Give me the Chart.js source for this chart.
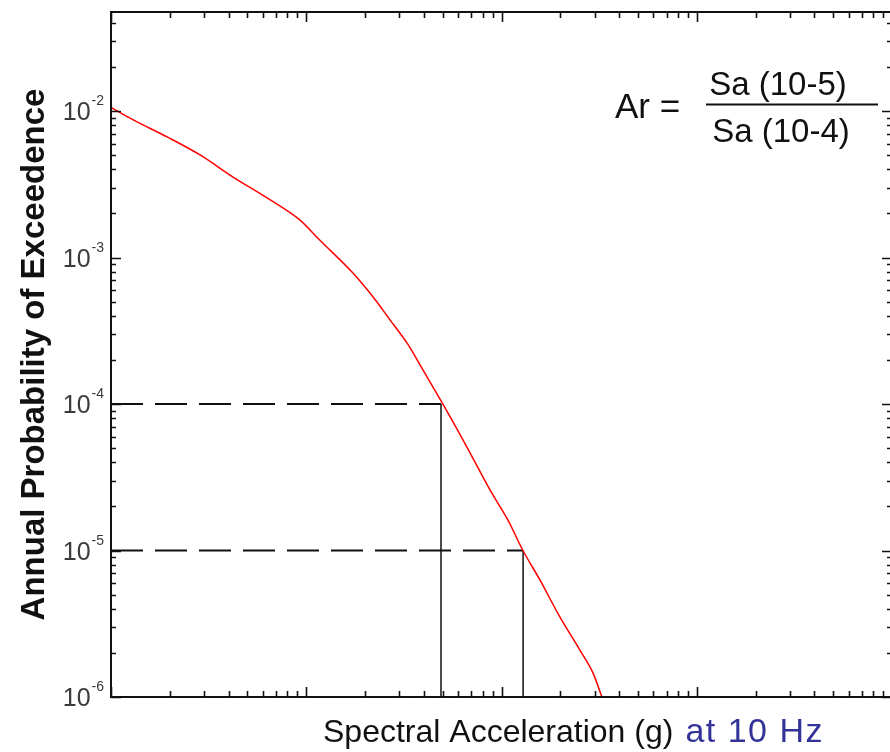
<!DOCTYPE html>
<html>
<head>
<meta charset="utf-8">
<script src="https://cdn.jsdelivr.net/npm/chart.js@4"></script>
<style>
  html, body { margin: 0; padding: 0; background: #fff; overflow: hidden; }
  canvas { display: block; }
</style>
</head>
<body>
<canvas id="myChart" width="900" height="752"></canvas>
<script>
// hazard curve (Sa in g, annual probability of exceedance)
const saValues = [0.0100, 0.0130, 0.0194, 0.0286, 0.0422, 0.0630, 0.0929, 0.1175, 0.1734, 0.220,
                  0.269, 0.328, 0.396, 0.496, 0.665, 0.873, 1.079, 1.288, 1.573, 1.99, 2.52, 2.94, 3.27];
const probValues = [0.0106, 0.00869, 0.00665, 0.00501, 0.00354, 0.00255, 0.00180, 0.00131, 0.000783, 0.000537,
                    0.000374, 0.000261, 0.000171, 0.000102, 5.08e-5, 2.59e-5, 1.61e-5, 1.0e-5, 6.3e-6, 3.52e-6, 2.09e-6, 1.46e-6, 1.0e-6];

// reference levels and the Sa read at them
const refProbs = [1e-4, 1e-5];
const refSa = [0.49, 1.29];

// axis limits and labelled ticks
const xMin = 0.01, xMax = 100;
const yMin = 1e-6, yMax = 0.0474;
const yTickValues = [1e-2, 1e-3, 1e-4, 1e-5, 1e-6];

const FONT = '"Liberation Sans", Arial, sans-serif';

const curve = saValues.map((s, i) => ({x: s, y: probValues[i]}));

const datasets = [{
    label: 'hazard',
    data: curve,
    borderColor: '#ff0000',
    borderWidth: 1.5,
    pointRadius: 0,
    cubicInterpolationMode: 'monotone'
}];
refProbs.forEach((p, i) => {
    datasets.push({
        label: 'level ' + i,
        data: [{x: xMin, y: p}, {x: refSa[i], y: p}],
        borderColor: '#111',
        borderWidth: 1.8,
        borderDash: [32, 12],
        pointRadius: 0
    });
    datasets.push({
        label: 'drop ' + i,
        data: [{x: refSa[i], y: p}, {x: refSa[i], y: yMin}],
        borderColor: '#111',
        borderWidth: 1.5,
        pointRadius: 0
    });
});

// frame, inward ticks, labels and titles
const framePlugin = {
    id: 'frame',
    afterDraw(chart) {
        const ctx = chart.ctx;
        const a = chart.chartArea;
        const xs = chart.scales.x, ys = chart.scales.y;
        ctx.save();
        ctx.strokeStyle = '#111';
        ctx.lineWidth = 2;
        ctx.strokeRect(a.left, a.top, a.right - a.left, a.bottom - a.top);

        ctx.lineWidth = 1.6;
        ctx.beginPath();
        for (let e = -2; e <= 2; e++) {
            for (let k = 1; k <= 9; k++) {
                const v = k * Math.pow(10, e);
                if (v < xMin || v > xMax) continue;
                const px = Math.round(xs.getPixelForValue(v)) + 0.5;
                const len = k === 1 ? 10 : 6;
                ctx.moveTo(px, a.bottom); ctx.lineTo(px, a.bottom - len);
                ctx.moveTo(px, a.top); ctx.lineTo(px, a.top + len);
            }
        }
        for (let e = -6; e <= -1; e++) {
            for (let k = 1; k <= 9; k++) {
                const v = k * Math.pow(10, e);
                if (v < yMin || v > yMax) continue;
                const py = Math.round(ys.getPixelForValue(v)) + 0.5;
                const len = k === 1 ? 10 : 5;
                ctx.moveTo(a.left, py); ctx.lineTo(a.left + len, py);
                ctx.moveTo(a.right, py); ctx.lineTo(a.right - len, py);
            }
        }
        ctx.stroke();

        // y tick labels 10^n
        ctx.fillStyle = '#3a3a3a';
        yTickValues.forEach(v => {
            const py = ys.getPixelForValue(v);
            const exp = String(Math.round(Math.log10(v)));
            ctx.font = '14px ' + FONT;
            ctx.textAlign = 'right';
            ctx.textBaseline = 'alphabetic';
            const ew = ctx.measureText(exp).width;
            ctx.fillText(exp, a.left - 7, py - 6);
            ctx.font = '25px ' + FONT;
            ctx.fillText('10', a.left - 8 - ew, py + 9);
        });

        // y title
        ctx.fillStyle = '#111';
        ctx.save();
        ctx.translate(35, (a.top + a.bottom) / 2);
        ctx.rotate(-Math.PI / 2);
        ctx.font = 'bold 33px ' + FONT;
        ctx.textAlign = 'center';
        ctx.textBaseline = 'middle';
        ctx.fillText('Annual Probability of Exceedence', 0, 0);
        ctx.restore();

        // x title
        ctx.textAlign = 'left';
        ctx.textBaseline = 'alphabetic';
        ctx.font = '32px ' + FONT;
        ctx.fillStyle = '#111';
        const t1 = 'Spectral Acceleration (g)';
        ctx.fillText(t1, 323, 742);
        const w1 = ctx.measureText(t1).width;
        ctx.fillStyle = '#333399';
        ctx.font = '34px ' + FONT;
        ctx.letterSpacing = '1.5px';
        ctx.fillText('at 10 Hz', 323 + w1 + 12, 742);
        ctx.letterSpacing = '0px';

        // ratio annotation
        ctx.fillStyle = '#111';
        ctx.font = '35px ' + FONT;
        ctx.textAlign = 'left';
        ctx.fillText('Ar =', 615, 118);
        ctx.font = '33px ' + FONT;
        ctx.textAlign = 'center';
        ctx.fillText('Sa (10-5)', 778, 95);
        ctx.fillText('Sa (10-4)', 781, 142);
        ctx.lineWidth = 2;
        ctx.beginPath();
        ctx.moveTo(706, 104.5); ctx.lineTo(878, 104.5);
        ctx.stroke();
        ctx.restore();
    }
};

new Chart(document.getElementById('myChart'), {
    type: 'line',
    data: {datasets: datasets},
    options: {
        responsive: false,
        animation: false,
        devicePixelRatio: 1,
        layout: {padding: {left: 111, right: 8, top: 12, bottom: 55}},
        plugins: {legend: {display: false}, tooltip: {enabled: false}},
        scales: {
            x: {type: 'logarithmic', min: xMin, max: xMax, display: false},
            y: {type: 'logarithmic', min: yMin, max: yMax, display: false}
        }
    },
    plugins: [framePlugin]
});
</script>
</body>
</html>
